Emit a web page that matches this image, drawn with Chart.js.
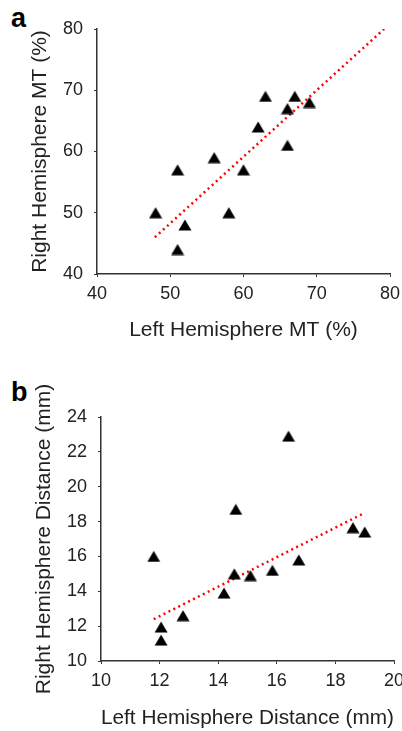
<!DOCTYPE html>
<html>
<head>
<meta charset="utf-8">
<script src="https://cdn.jsdelivr.net/npm/chart.js@4/dist/chart.umd.min.js"></script>
<style>
  body { margin:0; background:#fff; width:402px; height:731px; position:relative; overflow:hidden; }
  .box { position:absolute; left:0; width:402px; }
  .lbl { position:absolute; font-family:"Liberation Sans", Arial, sans-serif; font-weight:bold; font-size:27px; color:#000; }
</style>
</head>
<body>
<div class="lbl" style="left:11px; top:3px;">a</div>
<div class="lbl" style="left:11px; top:377px;">b</div>
<div class="box" style="top:0; height:350px;"><canvas id="chartA"></canvas></div>
<div class="box" style="top:360px; height:371px;"><canvas id="chartB"></canvas></div>
<script>
// panel a: motor threshold
const leftMT  = [48, 51, 51, 52, 56, 58, 60, 62, 63, 66, 66, 67, 69];
const rightMT = [50, 57, 44, 48, 59, 50, 57, 64, 69, 67, 61, 69, 68];
const trendMTx = [47.9, 79.2];
const trendMTy = [46.0, 80.0];

// panel b: distance
const leftDist  = [11.8, 12.05, 12.05, 12.8, 14.2, 14.55, 14.6, 15.1, 15.85, 16.4, 16.75, 18.6, 19.0];
const rightDist = [16.0, 11.95, 11.2, 12.6, 13.9, 15.0, 18.7, 14.9, 15.2, 22.9, 15.8, 17.65, 17.4];
const trendDistX = [11.8, 19.0];
const trendDistY = [12.4, 18.5];

const FONT = '"Liberation Sans", Arial, sans-serif';
const TXT = '#222';
const AXIS = '#333';

// triangle marker, centred on its bounding box
function makeTriangle() {
  const c = document.createElement('canvas');
  c.width = 14; c.height = 12;
  const g = c.getContext('2d');
  g.fillStyle = '#000';
  g.beginPath();
  g.moveTo(7, 0.5);
  g.lineTo(13.5, 11.5);
  g.lineTo(0.5, 11.5);
  g.closePath();
  g.fill();
  return c;
}
const tri = makeTriangle();

function toPts(xs, ys) { return xs.map((x, i) => ({x: x, y: ys[i]})); }

function makeOpts(cfg) {
  return {
    responsive: true,
    maintainAspectRatio: false,
    animation: false,
    layout: { padding: { top: cfg.padTop, right: cfg.padRight, left: 0, bottom: 0 } },
    plugins: { legend: { display: false }, tooltip: { enabled: false } },
    scales: {
      x: {
        type: 'linear',
        min: cfg.xmin, max: cfg.xmax,
        afterFit: s => { s.height = cfg.xh; s.paddingLeft = 0; s.paddingRight = 0; },
        border: { color: AXIS, width: 1.5 },
        grid: { drawOnChartArea: false, drawTicks: true, tickLength: 3, color: AXIS, lineWidth: 1 },
        ticks: { stepSize: cfg.xstep, color: TXT, padding: 6, font: { family: FONT, size: 18 } },
        title: { display: true, text: cfg.xtitle, color: TXT, font: { family: FONT, size: 21 }, padding: { top: 0, bottom: cfg.xtpad } }
      },
      y: {
        type: 'linear',
        min: cfg.ymin, max: cfg.ymax,
        afterFit: s => { s.width = cfg.yw; s.paddingTop = 0; s.paddingBottom = 0; },
        border: { color: AXIS, width: 1.5 },
        grid: { drawOnChartArea: false, drawTicks: true, tickLength: 3, color: AXIS, lineWidth: 1 },
        ticks: { stepSize: cfg.ystep, color: TXT, padding: 11, font: { family: FONT, size: 18 } },
        title: { display: true, text: cfg.ytitle, color: TXT, font: { family: FONT, size: 21 }, padding: { top: cfg.ytpad, bottom: 0 } }
      }
    }
  };
}

function makeData(xs, ys, tx, ty) {
  return {
    datasets: [
      {
        type: 'line',
        data: toPts(tx, ty),
        borderColor: '#ff0000',
        borderWidth: 2.5,
        borderDash: [2, 3.5],
        pointRadius: 0,
        fill: false,
        order: 2
      },
      {
        type: 'scatter',
        data: toPts(xs, ys),
        pointStyle: tri,
        pointRadius: 7,
        order: 1
      }
    ]
  };
}

new Chart(document.getElementById('chartA'), {
  type: 'scatter',
  data: makeData(leftMT, rightMT, trendMTx, trendMTy),
  options: makeOpts({
    padTop: 29, padRight: 12, xh: 76, yw: 97,
    xmin: 40, xmax: 80, xstep: 10, ymin: 40, ymax: 80, ystep: 10,
    xtitle: 'Left Hemisphere MT (%)', ytitle: 'Right Hemisphere MT (%)',
    xtpad: 7, ytpad: 28
  })
});

new Chart(document.getElementById('chartB'), {
  type: 'scatter',
  data: makeData(leftDist, rightDist, trendDistX, trendDistY),
  options: makeOpts({
    padTop: 57, padRight: 8, xh: 70, yw: 101,
    xmin: 10, xmax: 20, xstep: 2, ymin: 10, ymax: 24, ystep: 2,
    xtitle: 'Left Hemisphere Distance (mm)', ytitle: 'Right Hemisphere Distance (mm)',
    xtpad: 0, ytpad: 32
  })
});
</script>
</body>
</html>
